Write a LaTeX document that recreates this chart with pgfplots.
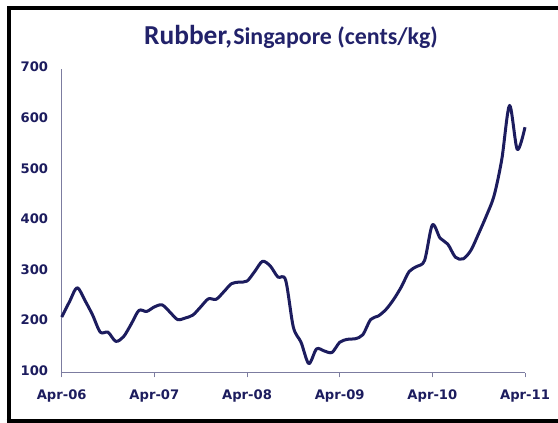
\documentclass[border=0pt]{standalone}
\usepackage{pgfplots}
\pgfplotsset{compat=1.18}
\usepackage{fontspec}
\setmainfont{Carlito}
\newfontfamily\tickfont{DejaVu Sans}
\definecolor{navy}{HTML}{1C1C5E}
\definecolor{titlec}{HTML}{22226A}
\definecolor{axisc}{HTML}{7C7CA0}
\begin{document}
\begin{tikzpicture}
\path[use as bounding box, fill=white] (0,0) rectangle (558bp,423bp);
\draw[line width=4bp] (8.7bp,1.5bp) -- (8.7bp,415.2bp) -- (575bp,415.2bp);
\draw[line width=4bp] (6.7bp,1.5bp) -- (575bp,1.5bp);
\node[anchor=base, text=titlec, inner sep=0pt] at (291bp,378.5bp) {{\fontsize{27.5}{32}\selectfont\bfseries Rubber,}\hspace{1bp}{\fontsize{24}{28}\selectfont\bfseries Singapore (cents/kg)}};
\begin{axis}[
  at={(61.7bp,50.3bp)}, anchor=south west,
  scale only axis, width=463.3bp, height=303.7bp,
  xmin=0, xmax=60, ymin=100, ymax=700,
  axis x line=bottom, axis y line=left,
  axis line style={-, draw=axisc, line width=0.8bp},
  xtick={0,12,24,36,48,60},
  xticklabels={Apr-06,Apr-07,Apr-08,Apr-09,Apr-10,Apr-11},
  ytick={100,200,...,700},
  tick align=outside,
  major tick length=4.7bp,
  x tick style={draw=axisc, line width=0.8bp},
  y tick style={draw=none},
  /pgf/number format/assume math mode=true,
  tick label style={font=\tickfont\bfseries\fontsize{13.2}{15}\selectfont, text=navy},
  yticklabel style={inner sep=0pt, xshift=-8.7bp, yshift=2bp},
  xticklabel style={inner sep=0pt, yshift=-11.9bp},
  clip=false,
]
\addplot[navy, line width=3bp, smooth, tension=0.5, line join=round] coordinates {
(0,210) (1,240) (2,268) (3,243) (4,214) (5,180) (6,180) (7,162) (8,171) (9,196)
(10,223) (11,221) (12,230) (13,234) (14,220) (15,205) (16,208) (17,214) (18,230) (19,246)
(20,245) (21,260) (22,276) (23,279) (24,281) (25,300) (26,320) (27,311) (28,289) (29,283)
(30,190) (31,160) (32,118) (33,147) (34,143) (35,140) (36,160) (37,166) (38,167) (39,175)
(40,205) (41,212) (42,225) (43,245) (44,270) (45,300) (46,310) (47,322) (48,392) (49,366)
(50,354) (51,328) (52,325) (53,342) (54,375) (55,410) (56,450) (57,522) (58,628) (59,541)
(60,585)
};
\end{axis}
\end{tikzpicture}
\end{document}
